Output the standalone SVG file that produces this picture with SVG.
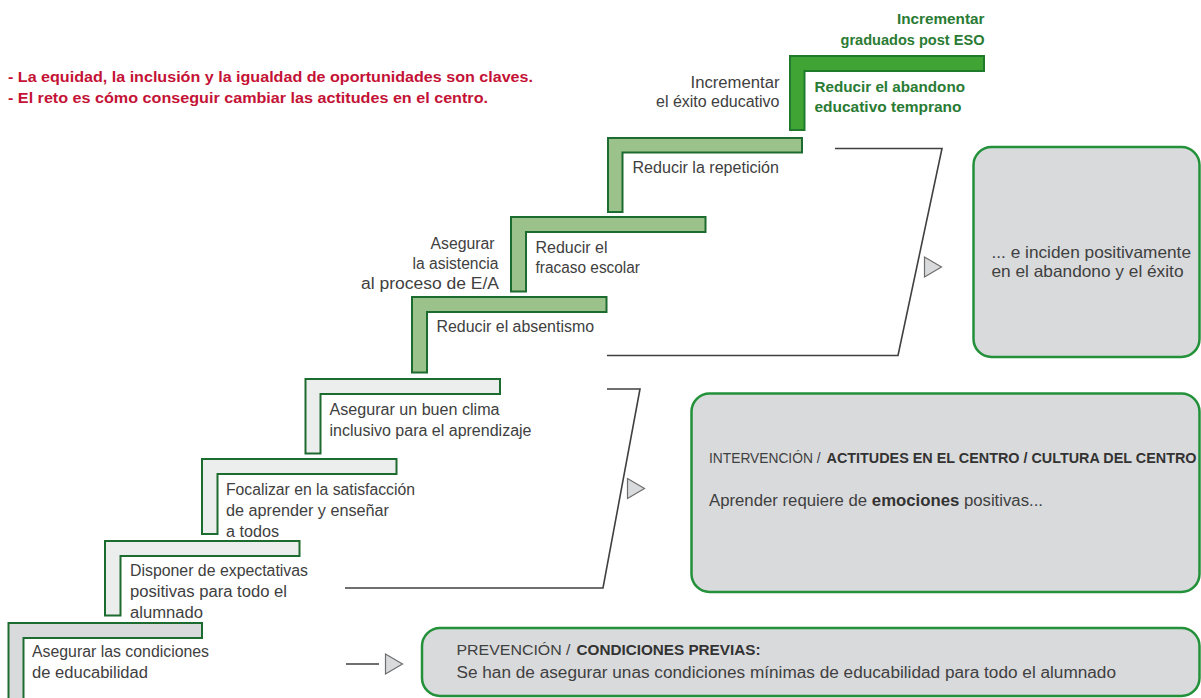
<svg xmlns="http://www.w3.org/2000/svg" xmlns:xlink="http://www.w3.org/1999/xlink" width="1201" height="698" viewBox="0 0 1201 698">
<style>
.step{stroke:#1c6b2f;stroke-width:2;stroke-linejoin:miter}
.s-gray{fill:#d9dadb}
.s-light{fill:#eceeed}
.s-green{fill:#9cc28b}
.s-bright{fill:#40a434;stroke:#1f7a2c}
.box{fill:#d9dadc;stroke:#22913a;stroke-width:2.5}
.conn{fill:none;stroke:#404040;stroke-width:1.6}
.tri{fill:#d9dadb;stroke:#6e6e6e;stroke-width:1.2}
text{font-family:"Liberation Sans",Arial,sans-serif}
.red{font-size:15.5px;font-weight:bold;fill:#c41236}
.t{font-size:16px;fill:#404040}
.gb{font-size:15.5px;font-weight:bold;fill:#2a7b33}
.bx{font-size:14.5px;fill:#404040}
.bxb{font-size:14.5px;font-weight:bold;fill:#333333}
.bx2{font-size:16px;fill:#404040}
.b{font-weight:bold;fill:#333333}
.big{font-size:16.5px;fill:#404040}
</style>
<defs>
<polygon id="tri" class="tri" points="0,-10 0,10 17,0"/>
</defs>
<rect width="1201" height="698" fill="#ffffff"/>

<g id="intro">
<text class="red" x="8" y="82" textLength="525" lengthAdjust="spacingAndGlyphs">- La equidad, la inclusión y la igualdad de oportunidades son claves.</text>
<text class="red" x="8" y="103" textLength="480" lengthAdjust="spacingAndGlyphs">- El reto es cómo conseguir cambiar las actitudes en el centro.</text>
</g>

<g id="step1">
<polygon class="step s-gray" points="8.5,623 202,623 202,638 23.5,638 23.5,702 8.5,702"/>
<text class="t" x="32" y="657" textLength="177" lengthAdjust="spacingAndGlyphs">Asegurar las condiciones</text>
<text class="t" x="32" y="678" textLength="116" lengthAdjust="spacingAndGlyphs">de educabilidad</text>
</g>

<g id="step2">
<polygon class="step s-light" points="105,541 299.5,541 299.5,556 120.5,556 120.5,615.5 105,615.5"/>
<text class="t" x="130" y="576" textLength="178" lengthAdjust="spacingAndGlyphs">Disponer de expectativas</text>
<text class="t" x="130" y="597" textLength="157" lengthAdjust="spacingAndGlyphs">positivas para todo el</text>
<text class="t" x="130" y="618" textLength="73" lengthAdjust="spacingAndGlyphs">alumnado</text>
</g>

<g id="step3">
<polygon class="step s-light" points="202,459 396.5,459 396.5,474 217.5,474 217.5,534 202,534"/>
<text class="t" x="226" y="495" textLength="189" lengthAdjust="spacingAndGlyphs">Focalizar en la satisfacción</text>
<text class="t" x="226" y="516" textLength="163" lengthAdjust="spacingAndGlyphs">de aprender y enseñar</text>
<text class="t" x="226" y="537" textLength="53" lengthAdjust="spacingAndGlyphs">a todos</text>
</g>

<g id="step4">
<polygon class="step s-light" points="305.5,379 500,379 500,394 320.5,394 320.5,453.5 305.5,453.5"/>
<text class="t" x="329.5" y="415" textLength="170" lengthAdjust="spacingAndGlyphs">Asegurar un buen clima</text>
<text class="t" x="329.5" y="435.5" textLength="202" lengthAdjust="spacingAndGlyphs">inclusivo para el aprendizaje</text>
</g>

<g id="step5">
<polygon class="step s-green" points="412,297 606.5,297 606.5,312 427,312 427,372.5 412,372.5"/>
<text class="t" x="436.5" y="332" textLength="157.5" lengthAdjust="spacingAndGlyphs">Reducir el absentismo</text>
<text class="t" x="494.5" y="248.5" text-anchor="end" textLength="64" lengthAdjust="spacingAndGlyphs">Asegurar</text>
<text class="t" x="498.5" y="268.5" text-anchor="end" textLength="86" lengthAdjust="spacingAndGlyphs">la asistencia</text>
<text class="t" x="499" y="289" text-anchor="end" textLength="138" lengthAdjust="spacingAndGlyphs">al proceso de E/A</text>
</g>

<g id="step6">
<polygon class="step s-green" points="511,217 705.5,217 705.5,232 526,232 526,291.5 511,291.5"/>
<text class="t" x="535.5" y="253" textLength="72" lengthAdjust="spacingAndGlyphs">Reducir el</text>
<text class="t" x="535.5" y="273" textLength="104.5" lengthAdjust="spacingAndGlyphs">fracaso escolar</text>
</g>

<g id="step7">
<polygon class="step s-green" points="608,138 802,138 802,152.5 622.5,152.5 622.5,212 608,212"/>
<text class="t" x="632.5" y="173" textLength="146.5" lengthAdjust="spacingAndGlyphs">Reducir la repetición</text>
<text class="t" x="779.5" y="87.5" text-anchor="end" textLength="89" lengthAdjust="spacingAndGlyphs">Incrementar</text>
<text class="t" x="779.5" y="106.5" text-anchor="end" textLength="123.5" lengthAdjust="spacingAndGlyphs">el éxito educativo</text>
</g>

<g id="step8">
<polygon class="step s-bright" points="790,56 984,56 984,71 804.5,71 804.5,130 790,130"/>
<text class="gb" x="984.5" y="24" text-anchor="end" textLength="87.5" lengthAdjust="spacingAndGlyphs">Incrementar</text>
<text class="gb" x="984.5" y="44.5" text-anchor="end" textLength="144" lengthAdjust="spacingAndGlyphs">graduados post ESO</text>
<text class="gb" x="814.5" y="92" textLength="150.5" lengthAdjust="spacingAndGlyphs">Reducir el abandono</text>
<text class="gb" x="814.5" y="111.5" textLength="147" lengthAdjust="spacingAndGlyphs">educativo temprano</text>
</g>

<g id="box-exito">
<rect class="box" x="973.5" y="147" width="226" height="210" rx="18" ry="18"/>
<text class="big" x="991.5" y="257.5" textLength="199.5" lengthAdjust="spacingAndGlyphs">... e inciden positivamente</text>
<text class="big" x="991.5" y="277" textLength="192" lengthAdjust="spacingAndGlyphs">en el abandono y el éxito</text>
</g>

<g id="box-intervencion">
<rect class="box" x="691.5" y="393.5" width="508" height="198.5" rx="18" ry="18"/>
<text class="bx" x="709" y="463" textLength="111.5" lengthAdjust="spacingAndGlyphs">INTERVENCIÓN /</text>
<text class="bxb" x="826.5" y="463" textLength="370" lengthAdjust="spacingAndGlyphs">ACTITUDES EN EL CENTRO / CULTURA DEL CENTRO</text>
<text class="bx2" x="709" y="506" textLength="334" lengthAdjust="spacingAndGlyphs">Aprender requiere de <tspan class="b">emociones</tspan> positivas...</text>
</g>

<g id="box-prevencion">
<rect class="box" x="422" y="628" width="777.5" height="68" rx="18" ry="18"/>
<text class="bx" x="456.5" y="654.5" textLength="114" lengthAdjust="spacingAndGlyphs">PREVENCIÓN /</text>
<text class="bxb" x="576.5" y="654.5" textLength="184" lengthAdjust="spacingAndGlyphs">CONDICIONES PREVIAS:</text>
<text class="bx2" x="456.5" y="678" textLength="659.5" lengthAdjust="spacingAndGlyphs">Se han de asegurar unas condiciones mínimas de educabilidad para todo el alumnado</text>
</g>

<g id="connectors">
<polyline class="conn" points="835,148.5 942,148.5 898,355.5 607,355.5"/>
<use xlink:href="#tri" x="924.5" y="267"/>
<polyline class="conn" points="607,389 640,389 603,588 345,588"/>
<use xlink:href="#tri" x="627.5" y="488.5"/>
<line class="conn" x1="346" y1="664" x2="379" y2="664"/>
<use xlink:href="#tri" x="385.5" y="664"/>
</g>
</svg>
